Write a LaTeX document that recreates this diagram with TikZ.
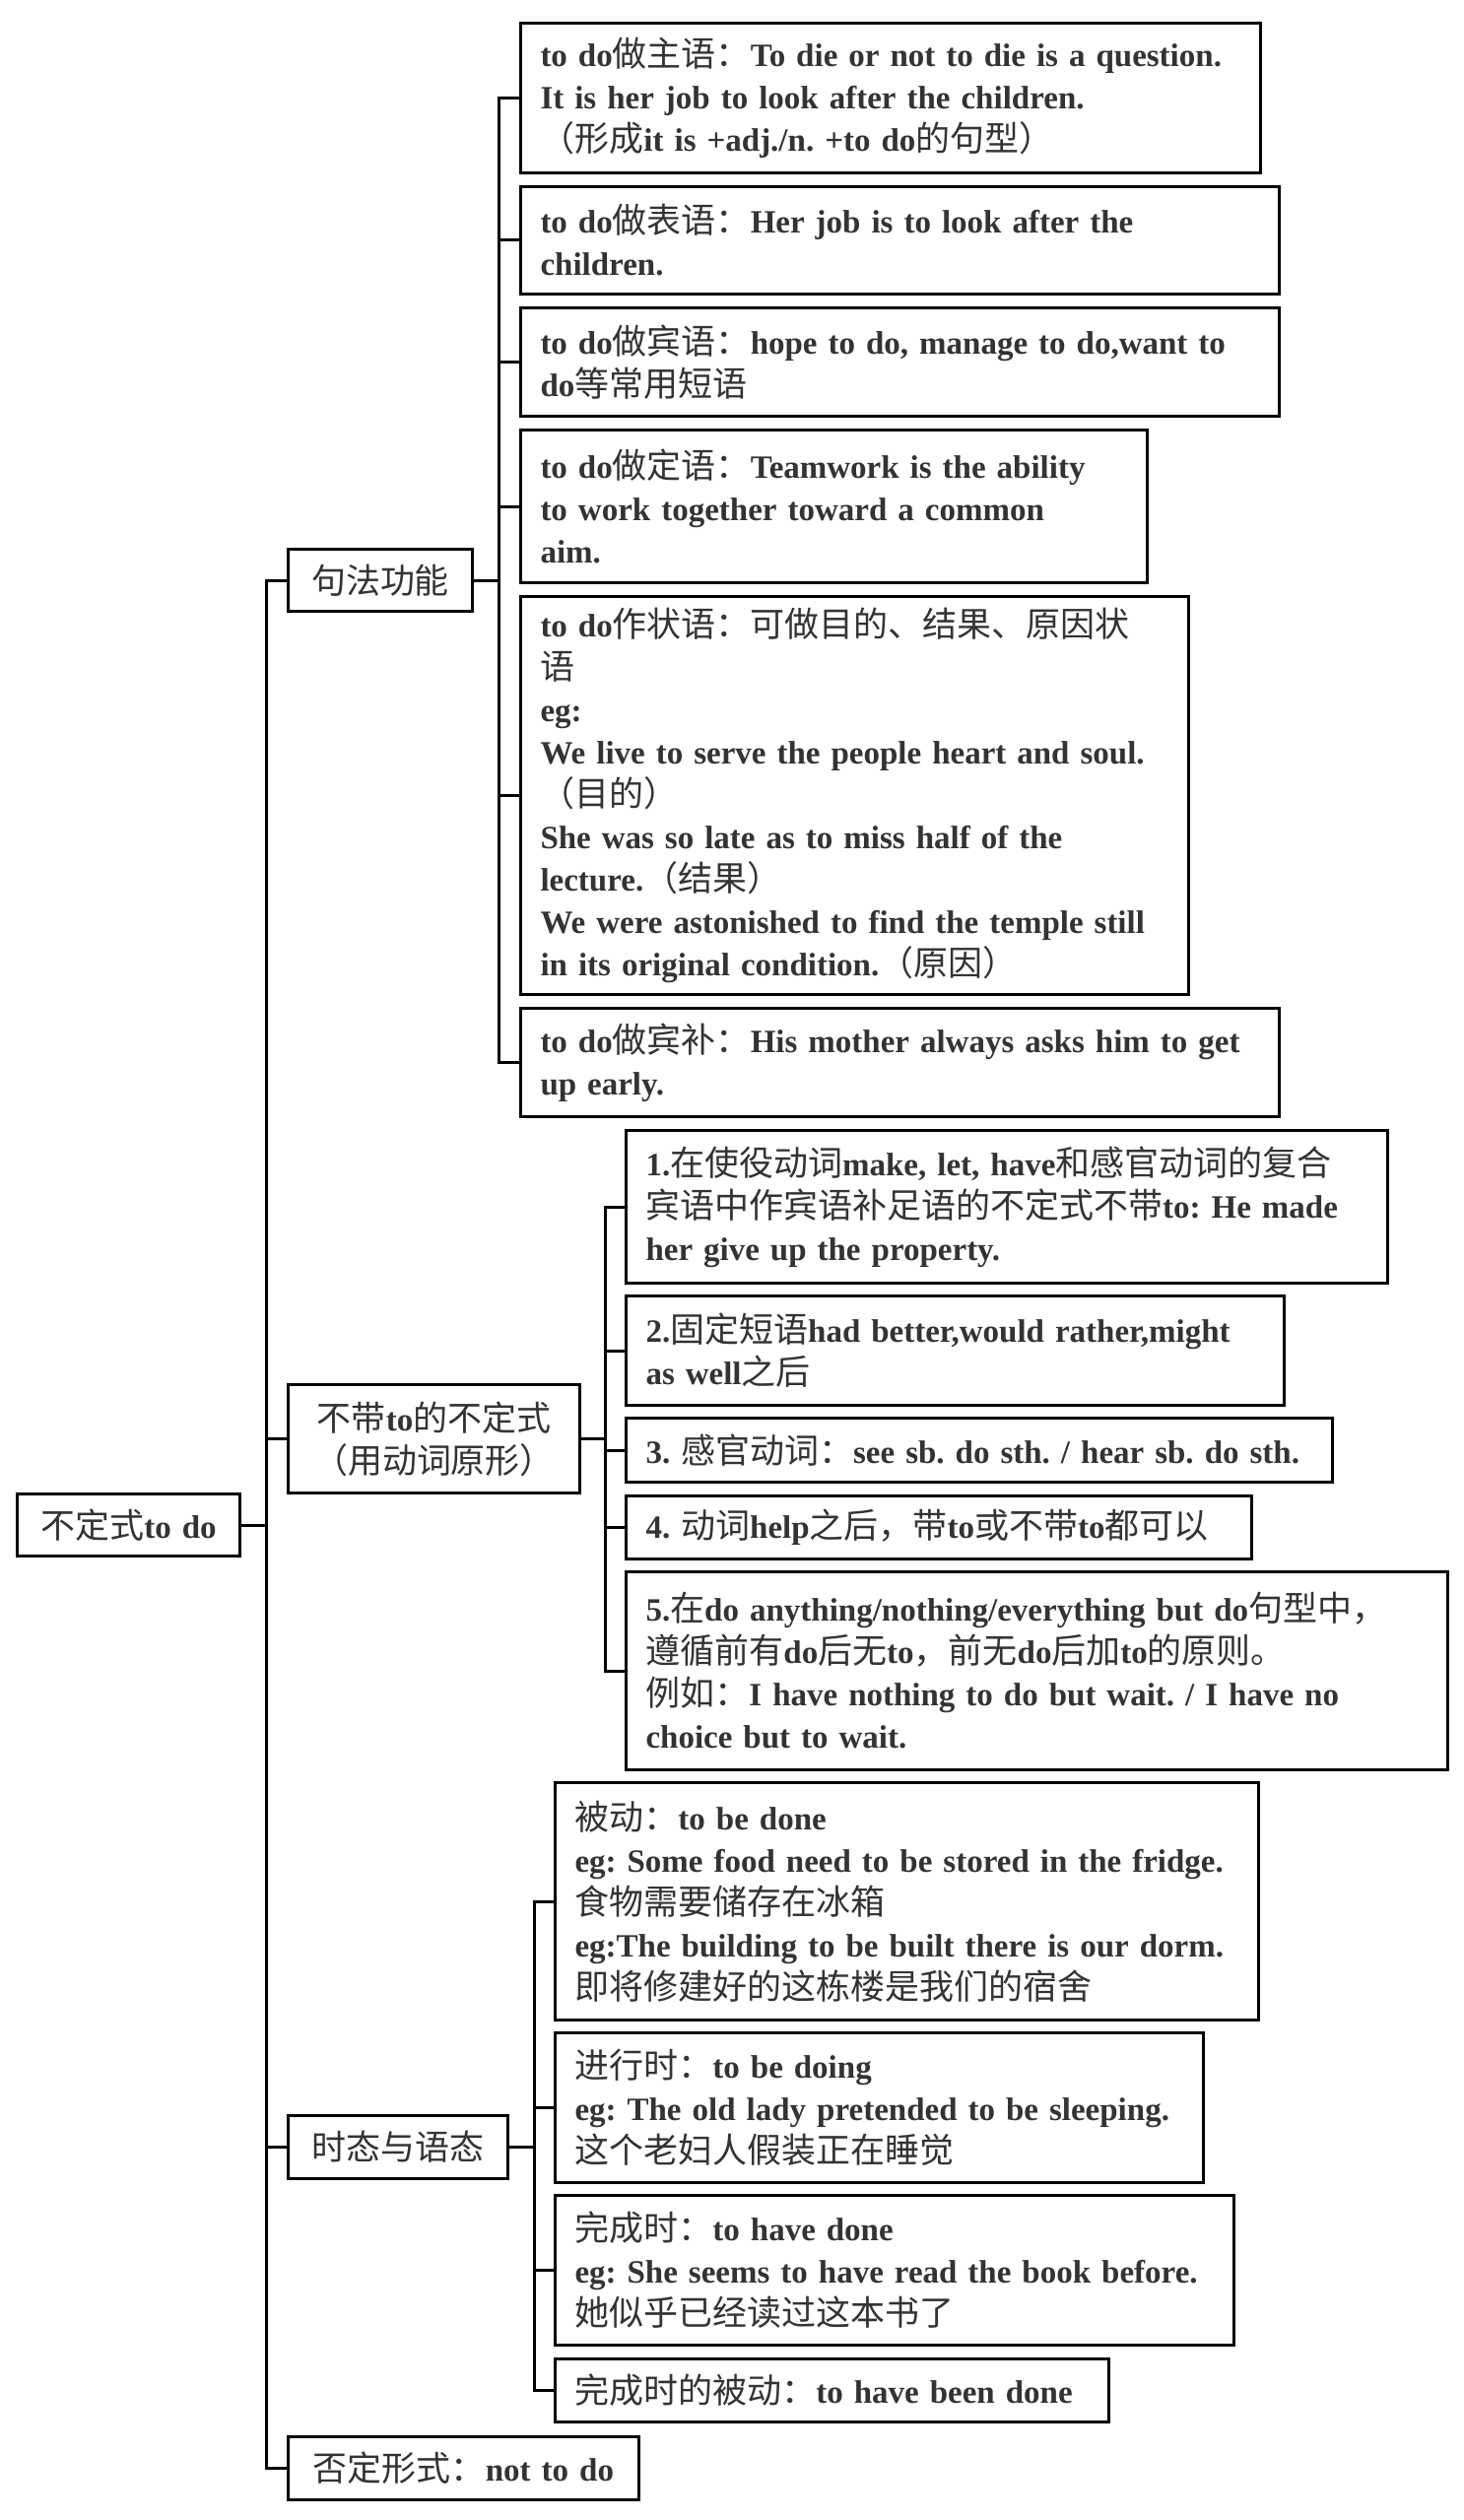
\documentclass[tikz,border=0pt]{standalone}
\usepackage{fontspec}
\setmainfont{Liberation Serif}
\newfontfamily\zhfont[Scale=1.06]{Noto Sans CJK SC}
\newcommand\zh[1]{{\zhfont\mdseries #1}}
\hyphenpenalty=10000
\frenchspacing
\tikzset{
  box/.style={draw=black, line width=1.5pt, text=black!80, anchor=north west,
    font=\fontsize{16.5}{21.5}\selectfont\bfseries, inner ysep=0pt},
  head/.style={box, align=center, inner xsep=0pt},
  leaf/.style={box, align=left, inner xsep=10pt},
  link/.style={line width=1.5pt}
}

\begin{document}
\begin{tikzpicture}[x=0.5pt,y=-0.5pt]
	\useasboundingbox (0,0) rectangle (1485,2558);
	% first level
	\node[head, text width=113pt, minimum height=31.5pt] (root) at (16,1515) {\zh{不定式}to do};
	\node[head, text width=93.5pt, minimum height=31.5pt] (syn) at (291,556) {\zh{句法功能}};
	\node[head, text width=148pt, minimum height=55pt] (bare) at (291,1404) {\zh{不带}to\zh{的不定式}\\ \zh{（用动词原形）}};
	\node[head, text width=111.5pt, minimum height=32pt] (tense) at (291,2146) {\zh{时态与语态}};
	\node[head, text width=178pt, minimum height=32pt] (neg) at (291,2472) {\zh{否定形式：}not to do};
	% syntax functions
	\node[leaf, text width=355.5pt, minimum height=76pt] (a1) at (527,22) {to do\zh{做主语：}To die or not to die is a question.\\ It is her job to look after the children.\\ \zh{（形成}it is +adj./n. +to do\zh{的句型）}};
	\node[leaf, text width=365pt, minimum height=54.5pt] (a2) at (527,188) {to do\zh{做表语：}Her job is to look after the\\ children.};
	\node[leaf, text width=365pt, minimum height=55pt] (a3) at (527,311) {to do\zh{做宾语：}hope to do, manage to do,want to\\ do\zh{等常用短语}};
	\node[leaf, text width=298pt, minimum height=77.5pt] (a4) at (527,435) {to do\zh{做定语：}Teamwork is the ability\\ to work together toward a common\\ aim.};
	\node[leaf, text width=319pt, minimum height=202pt] (a5) at (527,604) {to do\zh{作状语：可做目的、结果、原因状}\\ \zh{语}\\ eg:\\ We live to serve the people heart and soul.\\ \zh{（目的）}\\ She was so late as to miss half of the\\ lecture.\zh{（结果）}\\ We were astonished to find the temple still\\ in its original condition.\zh{（原因）}};
	\node[leaf, text width=365pt, minimum height=55pt] (a6) at (527,1022) {to do\zh{做宾补：}His mother always asks him to get\\ up early.};
	% bare infinitive
	\node[leaf, text width=366.5pt, minimum height=77.5pt] (b1) at (634,1146) {1.\zh{在使役动词}make, let, have\zh{和感官动词的复合}\\ \zh{宾语中作宾语补足语的不定式不带}to: He made\\ her give up the property.};
	\node[leaf, text width=314pt, minimum height=55.5pt] (b2) at (634,1314) {2.\zh{固定短语}had better,would rather,might\\ as well\zh{之后}};
	\node[leaf, text width=338.5pt, minimum height=32.5pt] (b3) at (634,1438) {3. \zh{感官动词：}see sb. do sth. / hear sb. do sth.};
	\node[leaf, text width=297.5pt, minimum height=32pt] (b4) at (634,1517) {4. \zh{动词}help\zh{之后，带}to\zh{或不带}to\zh{都可以}};
	\node[leaf, text width=397pt, minimum height=100.5pt] (b5) at (634,1594) {5.\zh{在}do anything/nothing/everything but do\zh{句型中，}\\ \zh{遵循前有}do\zh{后无}to\zh{，前无}do\zh{后加}to\zh{的原则。}\\ \zh{例如：}I have nothing to do but wait. / I have no\\ choice but to wait.};
	% tense and voice
	\node[leaf, text width=337pt, minimum height=120.5pt] (c1) at (562,1808) {\zh{被动：}to be done\\ eg: Some food need to be stored in the fridge.\\ \zh{食物需要储存在冰箱}\\ eg:The building to be built there is our dorm.\\ \zh{即将修建好的这栋楼是我们的宿舍}};
	\node[leaf, text width=309pt, minimum height=76pt] (c2) at (562,2062) {\zh{进行时：}to be doing\\ eg: The old lady pretended to be sleeping.\\ \zh{这个老妇人假装正在睡觉}};
	\node[leaf, text width=324.5pt, minimum height=76pt] (c3) at (562,2227) {\zh{完成时：}to have done\\ eg: She seems to have read the book before.\\ \zh{她似乎已经读过这本书了}};
	\node[leaf, text width=261pt, minimum height=32pt] (c4) at (562,2393) {\zh{完成时的被动：}to have been done};
	% connectors
	\foreach \c in {syn,bare,tense,neg} \draw[link] (root.east) -- ++(25,0) |- (\c.west);
	\foreach \c in {a1,a2,a3,a4,a5,a6} \draw[link] (syn.east) -- ++(25,0) |- (\c.west);
	\foreach \c in {b1,b2,b3,b4,b5} \draw[link] (bare.east) -- ++(24,0) |- (\c.west);
	\foreach \c in {c1,c2,c3,c4} \draw[link] (tense.east) -- ++(25,0) |- (\c.west);
\end{tikzpicture}
\end{document}
